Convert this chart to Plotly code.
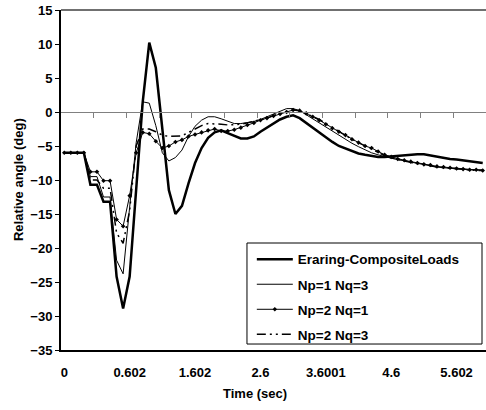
import plotly.graph_objects as go

# category index of each sample (Excel-style category axis)
sample = list(range(65))
time_labels = ["0", "0.602", "1.602", "2.6", "3.6001", "4.6", "5.602"]
label_pos = [0, 10, 20, 30, 40, 50, 60]
minor_ticks = [4.5 + 5 * i for i in range(13)]

eraring = [-6, -6, -6, -6, -10.7, -10.7, -13.2, -13.2, -24.2, -28.9,
           -24.2, -11.0, 1.5, 10.2, 6.5, -2.5, -11.5, -15.0, -13.8, -10.5,
           -7.5, -5.3, -3.8, -3.0, -2.7, -3.1, -3.5, -3.9, -3.9, -3.6,
           -2.9, -2.3, -1.7, -1.1, -0.7, -0.5, -0.9, -1.6, -2.3, -3.1,
           -3.8, -4.4, -5.0, -5.4, -5.8, -6.1, -6.3, -6.5, -6.6, -6.6,
           -6.5, -6.4, -6.3, -6.2, -6.2, -6.2, -6.4, -6.6, -6.7, -6.9,
           -7.0, -7.1, -7.2, -7.4, -7.5]

np1_nq3 = [-6, -6, -6, -6, -9.5, -9.5, -12.5, -12.5, -21.8, -23.8,
           -14.0, -4.5, 1.5, 1.3, -2.0, -6.0, -7.2, -6.7, -5.6, -3.6,
           -2.1, -1.2, -0.7, -0.7, -1.0, -1.4, -1.7, -1.7, -1.6, -1.4,
           -1.1, -0.7, -0.4, 0.1, 0.5, 0.5, 0.2, -0.4, -1.0, -1.7,
           -2.3, -2.9, -3.5, -4.0, -4.6, -5.1, -5.6, -6.0, -6.3, -6.6,
           -6.8, -7.0, -7.2, -7.4, -7.6, -7.8, -7.9, -8.1, -8.2, -8.3,
           -8.4, -8.4, -8.5, -8.5, -8.5]

np2_nq1 = [-6, -6, -6, -6, -8.8, -8.8, -10.1, -10.1, -15.8, -16.8,
           -12.3, -6.0, -3.0, -3.2, -4.3, -5.3, -5.0, -4.4, -4.1, -3.6,
           -3.3, -3.0, -2.7, -2.5, -2.8, -2.8, -2.6, -2.3, -1.9, -1.6,
           -1.2, -0.9, -0.6, -0.3, 0.0, 0.3, 0.2, -0.2, -0.7, -1.2,
           -1.8, -2.4, -2.9, -3.4, -4.0, -4.5, -5.0, -5.3, -5.8, -6.3,
           -6.6, -6.9, -7.1, -7.3, -7.5, -7.7, -7.8, -8.0, -8.1, -8.2,
           -8.3, -8.4, -8.5, -8.5, -8.6]

np2_nq3 = [-6, -6, -6, -6, -10.0, -10.0, -11.2, -11.2, -17.8, -19.3,
           -14.5, -5.0, -2.5, -2.5, -2.9, -3.4, -3.6, -3.6, -3.5, -3.0,
           -2.5, -2.0, -1.7, -1.7, -1.8, -1.9, -1.9, -1.8, -1.6, -1.4,
           -1.2, -0.9, -0.5, -0.2, 0.1, 0.3, 0.2, -0.2, -0.6, -1.1,
           -1.7, -2.3, -2.9, -3.4, -4.0, -4.5, -5.0, -5.4, -5.9, -6.4,
           -6.7, -7.0, -7.2, -7.4, -7.6, -7.8, -7.9, -8.1, -8.2, -8.3,
           -8.4, -8.5, -8.5, -8.6, -8.6]

FONT = "Arial, Liberation Sans, sans-serif"

fig = go.Figure()

fig.add_trace(go.Scatter(x=sample, y=eraring, name="Eraring-CompositeLoads",
                         mode="lines", line=dict(color="black", width=2.5),
                         legendgroup="a"))
fig.add_trace(go.Scatter(x=sample, y=np1_nq3, name="Np=1 Nq=3",
                         mode="lines", line=dict(color="black", width=1),
                         legendgroup="b"))
fig.add_trace(go.Scatter(x=sample, y=np2_nq1, name="Np=2 Nq=1",
                         mode="lines+markers", line=dict(color="black", width=1),
                         marker=dict(symbol="diamond", size=3.5, color="black"),
                         legendgroup="c"))
fig.add_trace(go.Scatter(x=sample, y=np2_nq3, name="Np=2 Nq=3",
                         mode="lines",
                         line=dict(color="black", width=1.5,
                                   dash="9px,4px,2px,4px,2px,4px"),
                         legendgroup="d"))
# empty trace so the zero-crossing axis gets drawn
fig.add_trace(go.Scatter(x=[], y=[], xaxis="x2", showlegend=False))

fig.update_layout(
    width=486, height=410,
    margin=dict(l=61, r=0, t=10, b=60),
    paper_bgcolor="white", plot_bgcolor="white",
    font=dict(family=FONT, color="black", size=13, weight="bold"),
    xaxis=dict(range=[-0.5, 64.5], tickvals=label_pos, ticktext=time_labels,
               showline=True, linecolor="black", linewidth=1.5,
               ticks="", showgrid=False, zeroline=False,
               ticklabelstandoff=10,
               tickfont=dict(size=13, weight="bold")),
    xaxis2=dict(overlaying="x", anchor="free", position=0.7,
                range=[-0.5, 64.5], tickvals=minor_ticks,
                showline=True, linecolor="#808080", linewidth=1,
                ticks="outside", ticklen=5, tickcolor="#808080",
                showticklabels=False, showgrid=False, zeroline=False),
    yaxis=dict(range=[-35, 15], tickvals=list(range(-35, 16, 5)),
               showline=True, linecolor="black", linewidth=2,
               ticks="outside", ticklen=4, tickcolor="black",
               showgrid=False, zeroline=False,
               tickfont=dict(size=13, weight="bold")),
    legend=dict(x=0.449, y=0.312, xanchor="left", yanchor="top",
                borderwidth=0, bgcolor="rgba(0,0,0,0)",
                font=dict(size=13.5, weight="bold"), tracegroupgap=4.5,
                itemwidth=36),
    showlegend=True,
    shapes=[
        dict(type="line", xref="paper", yref="paper", x0=0, x1=1,
             y0=1, y1=1, line=dict(color="#404040", width=1.5)),
        # legend frame
        dict(type="rect", xref="paper", yref="paper", x0=0.4376, x1=0.9906,
             y0=0.0176, y1=0.3147, line=dict(color="black", width=1),
             fillcolor="white", layer="below"),
    ],
    annotations=[
        dict(text="Relative angle (deg)", xref="paper", yref="paper",
             x=-0.101, y=0.5, textangle=-90, showarrow=False,
             xanchor="center", yanchor="middle",
             font=dict(size=13, weight="bold")),
        dict(text="Time (sec)", xref="paper", yref="paper",
             x=0.456, y=-0.128, showarrow=False,
             xanchor="center", yanchor="middle",
             font=dict(size=13, weight="bold")),
    ],
)

fig.write_html("out.html", config={"displayModeBar": False},
               post_script="document.body.style.margin='0';")
